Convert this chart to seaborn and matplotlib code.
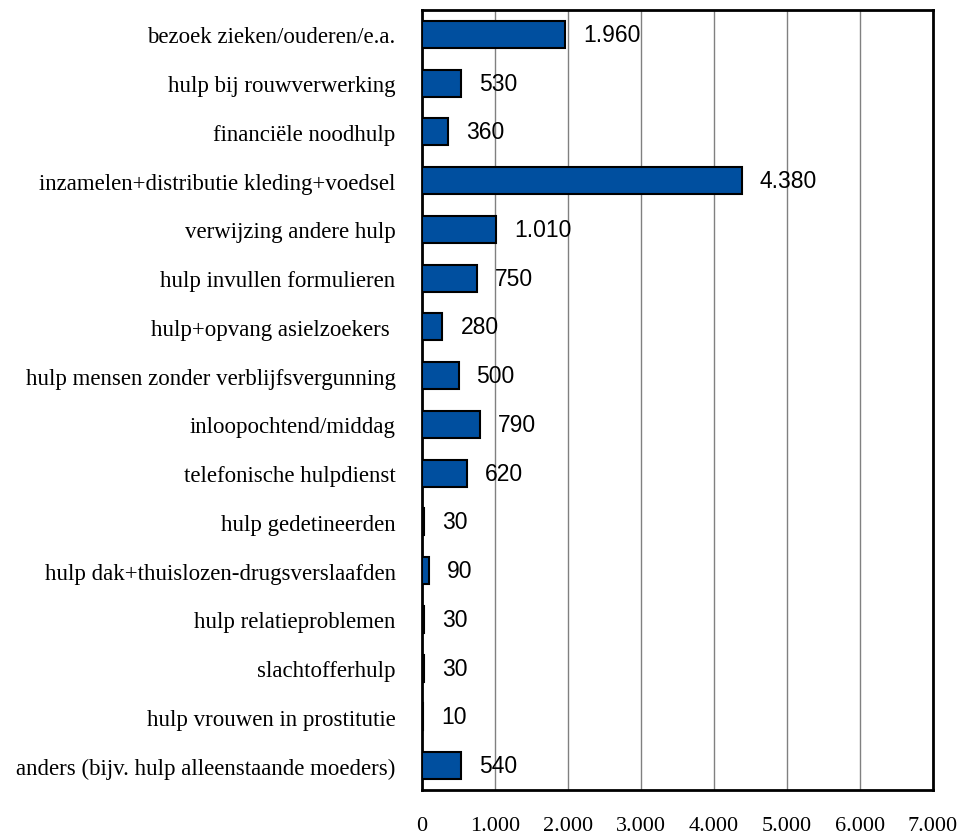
import matplotlib
matplotlib.use("Agg")
import matplotlib.pyplot as plt
import seaborn as sns
import pandas as pd

categories = [
    "bezoek zieken/ouderen/e.a.",
    "hulp bij rouwverwerking",
    "financiële noodhulp",
    "inzamelen+distributie kleding+voedsel",
    "verwijzing andere hulp",
    "hulp invullen formulieren",
    "hulp+opvang asielzoekers ",
    "hulp mensen zonder verblijfsvergunning",
    "inloopochtend/middag",
    "telefonische hulpdienst",
    "hulp gedetineerden",
    "hulp dak+thuislozen-drugsverslaafden",
    "hulp relatieproblemen",
    "slachtofferhulp",
    "hulp vrouwen in prostitutie",
    "anders (bijv. hulp alleenstaande moeders)",
]
values = [1960, 530, 360, 4380, 1010, 750, 280, 500, 790, 620, 30, 90, 30, 30, 10, 540]
xticks = [0, 1000, 2000, 3000, 4000, 5000, 6000, 7000]
xtick_labels = ["0", "1.000", "2.000", "3.000", "4.000", "5.000", "6.000", "7.000"]

def fmt(v):
    return f"{v:,}".replace(",", ".")

df = pd.DataFrame({"cat": categories, "val": values})

sns.set_theme(style="white")
plt.rcParams["font.family"] = ["Liberation Serif", "DejaVu Serif"]
plt.rcParams["text.color"] = "black"
plt.rcParams["xtick.color"] = "black"
plt.rcParams["ytick.color"] = "black"
plt.rcParams["axes.labelcolor"] = "black"

fig = plt.figure(figsize=(9.61, 8.37), dpi=100)
ax = fig.add_axes([422/961, 1-791/837, (933-422)/961, (791-11)/837])

sns.barplot(data=df, x="val", y="cat", orient="h", color="#004f9f",
            saturation=1, width=0.55, edgecolor="black", linewidth=1.5, ax=ax, zorder=3)

ax.set_xlim(0, 7000)
ax.set_xticks(xticks)
ax.set_xticklabels(xtick_labels, fontsize=16, family="Liberation Serif", color="black")
ax.set_xlabel("")
ax.set_ylabel("")
ax.tick_params(axis="x", direction="out", length=8, width=1, color="#808080",
               labelcolor="black", pad=11)
ax.tick_params(axis="y", length=0, pad=19, labelsize=16.5, labelcolor="black")
for lab in ax.get_yticklabels():
    lab.set_family("Liberation Serif")

ax.grid(axis="x", color="#808080", linewidth=1, zorder=0)
ax.grid(axis="y", visible=False)
ax.set_axisbelow(True)
for s in ax.spines.values():
    s.set_visible(True)
    s.set_color("black")
    s.set_linewidth(2)

for i, v in enumerate(values):
    ax.annotate(fmt(v), xy=(v, i), xytext=(13, 0), textcoords="offset points",
                va="center", ha="left", fontsize=16.5, family="Liberation Sans",
                color="black", zorder=5)

fig.savefig("out.png", dpi=100)
